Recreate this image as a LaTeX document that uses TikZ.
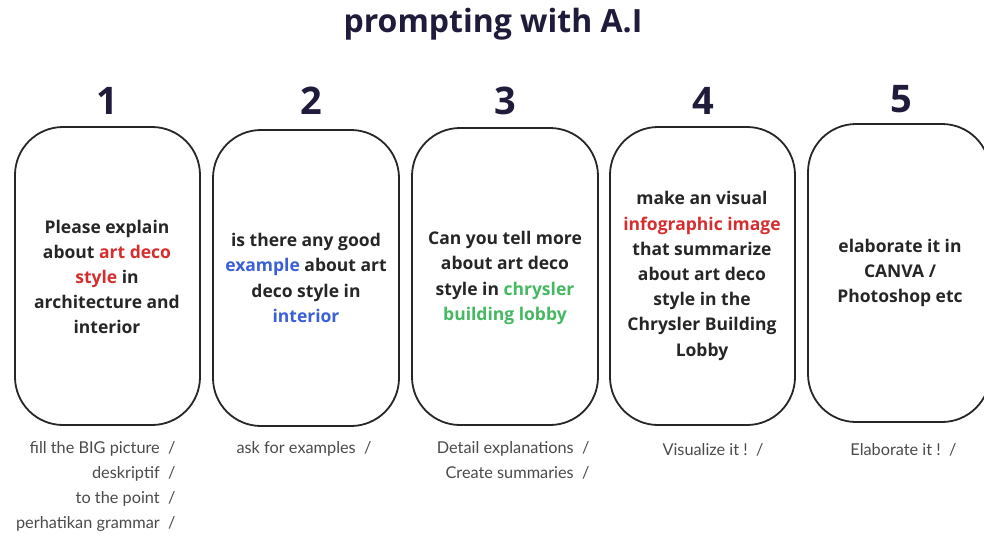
\documentclass[tikz,border=0pt]{standalone}
\usepackage{fontspec}
\setmainfont{Open Sans}
\newfontfamily\boxfont{Open Sans}
\newfontfamily\notefont{Lato}
\definecolor{navy}{HTML}{1F1B3A}
\definecolor{redc}{HTML}{D62E2E}
\definecolor{bluec}{HTML}{3B5FD6}
\definecolor{greenc}{HTML}{45B862}
\definecolor{noteg}{HTML}{4A4A4A}
\begin{document}
\begin{tikzpicture}[x=1pt,y=-1pt,
  card/.style={draw=black!85,line width=1.8pt,rounded corners=48pt},
  cardtext/.style={font=\boxfont\bfseries\fontsize{17.5}{25.2}\selectfont,align=center,text=black!85},
  num/.style={font=\bfseries\fontsize{38}{38}\selectfont,text=navy},
  note/.style={font=\notefont\fontsize{16.3}{25}\selectfont,text=noteg,align=right}]
\useasboundingbox (0,0) rectangle (984,535);
\clip (0,0) rectangle (984,535);
\node[font=\bfseries\fontsize{32}{32}\selectfont,text=navy] (title) at (493,24) {prompting with A.I};
% numbers
\node[num] (n1) at (107,101) {1};
\node[num] (n2) at (311,101) {2};
\node[num] (n3) at (505,101) {3};
\node[num] (n4) at (703,101) {4};
\node[num] (n5) at (901,99) {5};
% cards
\draw[card] (15,127) rectangle (200,425);
\draw[card] (213,130) rectangle (399,426);
\draw[card] (412,128) rectangle (598,425);
\draw[card] (610,127) rectangle (795,425);
\draw[card] (808,124) rectangle (990,422);
% card texts
\node[cardtext] (t1) at (107,277) {Please explain\\about \textcolor{redc}{art deco}\\\textcolor{redc}{style} in\\architecture and\\interior};
\node[cardtext] (t2) at (306,278) {is there any good\\\textcolor{bluec}{example} about art\\deco style in\\\textcolor{bluec}{interior}};
\node[cardtext] (t3) at (505,278) {Can you tell more\\about art deco\\style in \textcolor{greenc}{chrysler}\\\textcolor{greenc}{building lobby}};
\node[cardtext] (t4) at (702,276) {make an visual\\\textcolor{redc}{infographic image}\\that summarize\\about art deco\\style in the\\Chrysler Building\\Lobby};
\node[cardtext] (t5) at (900,273) {elaborate it in\\CANVA /\\Photoshop etc};
% notes
\node[note,anchor=north east] (b1) at (179,438) {fill the BIG picture~~/\\deskriptif~~/\\to the point~~/\\perhatikan grammar~~/};
\node[note,anchor=north east] (b2) at (375,438) {ask for examples~~/};
\node[note,anchor=north east] (b3) at (593,438) {Detail explanations~~/\\Create summaries~~/};
\node[note,anchor=north east] (b4) at (767,440) {Visualize it !~~/};
\node[note,anchor=north east] (b5) at (960,440) {Elaborate it !~~/};
\end{tikzpicture}
\end{document}
